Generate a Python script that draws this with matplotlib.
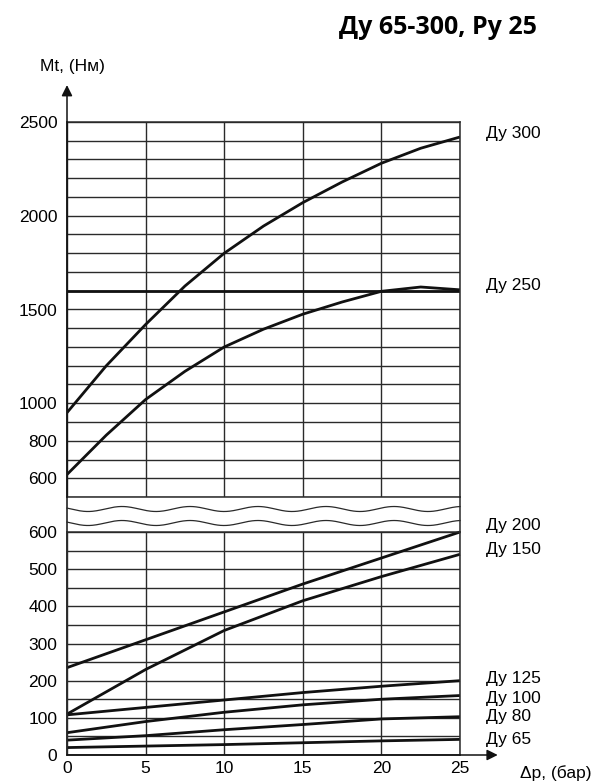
import numpy as np
import matplotlib
matplotlib.use("Agg")
import matplotlib.pyplot as plt
from matplotlib.lines import Line2D

plt.rcParams['font.family'] = ['Liberation Sans', 'DejaVu Sans']

# pressure drop, bar
dp_big = [0, 2.5, 5, 7.5, 10, 12.5, 15, 17.5, 20, 22.5, 25]
dn300 = [950, 1200, 1420, 1625, 1800, 1945, 2070, 2180, 2280, 2360, 2420]
dn250 = [620, 830, 1020, 1170, 1300, 1395, 1475, 1540, 1597, 1620, 1605]

dp_small = [0, 5, 10, 15, 20, 25]
dn200 = [235, 310, 385, 460, 530, 600]
dn150 = [110, 230, 335, 415, 480, 540]
dn125 = [108, 128, 148, 168, 185, 200]
dn100 = [60, 90, 115, 135, 150, 160]
dn80 = [40, 52, 68, 82, 97, 103]
dn65 = [20, 24, 28, 33, 38, 42]

top_labels = ["Ду 300", "Ду 250"]
bottom_labels = ["Ду 200", "Ду 150", "Ду 125", "Ду 100", "Ду 80", "Ду 65"]
ref_line = 1600

W, H = 600, 784
fig = plt.figure(figsize=(W / 100, H / 100), dpi=100)

x0, x1 = 67 / W, 460 / W
ax_top = fig.add_axes([x0, 1 - 497 / H, x1 - x0, (497 - 122) / H])
ax_bot = fig.add_axes([x0, 1 - 755 / H, x1 - x0, (755 - 532) / H])

fs = 12.5
grid_c = "#2a2a2a"
for ax in (ax_top, ax_bot):
    ax.set_xlim(0, 25)
    ax.set_xticks([0, 5, 10, 15, 20, 25])
    ax.grid(True, which="both", color=grid_c, lw=1.0)
    ax.tick_params(length=0, labelsize=fs, pad=7)
    ax.tick_params(which="minor", length=0)
    for s in ax.spines.values():
        s.set_color(grid_c)
        s.set_linewidth(1.1)
    ax.set_axisbelow(True)

ax_top.set_ylim(500, 2500)
ax_top.set_yticks([600, 800, 1000, 1500, 2000, 2500])
ax_top.set_yticks(np.arange(500, 2501, 100), minor=True)
ax_top.tick_params(axis="x", labelbottom=False)

ax_bot.set_ylim(0, 600)
ax_bot.set_yticks(np.arange(0, 601, 100))
ax_bot.set_yticks(np.arange(0, 601, 50), minor=True)
ax_bot.tick_params(axis="x", pad=4)

lw = 2.0
ax_top.plot(dp_big, dn300, color="#111", lw=lw, solid_capstyle="butt")
ax_top.plot(dp_big, dn250, color="#111", lw=lw, solid_capstyle="butt")
ax_top.axhline(ref_line, color="#111", lw=lw)

for ys in (dn200, dn150, dn125, dn100, dn80, dn65):
    ax_bot.plot(dp_small, ys, color="#111", lw=lw, solid_capstyle="butt", clip_on=False)

# curve labels (offset in points: dx, dy)
offs_top = [(19, 2.5), (19, 3.5)]
for lab, ys, (dx, dy) in zip(top_labels, (dn300, [ref_line] * 2), offs_top):
    ax_top.annotate(lab, xy=(25, ys[-1]), xytext=(dx, dy), textcoords="offset points",
                    ha="left", va="center", fontsize=fs, annotation_clip=False)
offs_bot = [(19, 5), (19, 3.5), (19, 1.5), (19, -2), (19, 0), (19, 0)]
for lab, ys, (dx, dy) in zip(bottom_labels, (dn200, dn150, dn125, dn100, dn80, dn65), offs_bot):
    ax_bot.annotate(lab, xy=(25, ys[-1]), xytext=(dx, dy), textcoords="offset points",
                    ha="left", va="center", fontsize=fs, annotation_clip=False)

# axis arrows
arr = dict(arrowstyle="-|>", mutation_scale=16, lw=1.1, color="#111", shrinkA=0, shrinkB=0)
ax_bot.annotate("", xy=(27.4, 0), xytext=(0, 0), arrowprops=arr, annotation_clip=False)
ax_top.annotate("", xy=(0, 2697), xycoords=ax_top.transData,
                xytext=(0, 0), textcoords=ax_bot.transData, arrowprops=arr,
                annotation_clip=False)

# break region: side lines and wavy lines
ov = fig.add_axes([0, 0, 1, 1], facecolor="none")
ov.set_xlim(0, W)
ov.set_ylim(H, 0)
ov.axis("off")
ov.add_line(Line2D([460, 460], [497, 532], color=grid_c, lw=1.1))
xs = np.linspace(67, 460, 400)
for yc in (509, 523):
    ov.plot(xs, yc - 2.5 * np.sin((xs - 105) / 68 * 2 * np.pi), color=grid_c, lw=0.9)

fig.text(438 / W, 1 - 27 / H, "Ду 65-300, Ру 25", ha="center", va="center",
         fontsize=18, fontweight="bold", family=["Open Sans", "DejaVu Sans"])
fig.text(72 / W, 1 - 66 / H, "Mt, (Нм)", ha="center", va="center", fontsize=fs)
fig.text(556 / W, 1 - 773 / H, "Δp, (бар)", ha="center", va="center", fontsize=fs)

fig.savefig("out.png", dpi=100)
